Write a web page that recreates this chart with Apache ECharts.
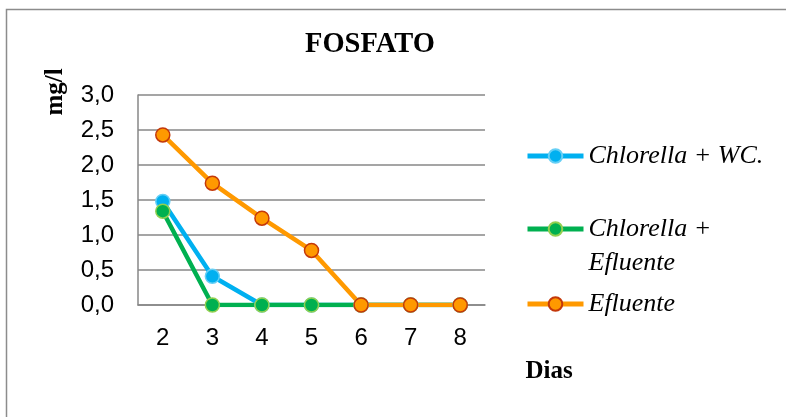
<!DOCTYPE html>
<html>
<head>
<meta charset="utf-8">
<script src="https://cdn.jsdelivr.net/npm/echarts@6/dist/echarts.min.js"></script>
<style>
  html, body { margin: 0; padding: 0; background: #fff; }
  #chart { width: 786px; height: 417px; }
</style>
</head>
<body>
<div id="chart"></div>
<script>
// Phosphate concentration (mg/l) per day
const dias = ['2', '3', '4', '5', '6', '7', '8'];
const chlorellaWC = [1.48, 0.41, 0, 0, 0, 0, 0];
const chlorellaEfluente = [1.34, 0, 0, 0, 0, 0, 0];
const efluente = [2.43, 1.74, 1.24, 0.78, 0, 0, 0];
const yTicks = ['0,0', '0,5', '1,0', '1,5', '2,0', '2,5', '3,0'];

const serifFont = '"Liberation Serif", "Times New Roman", serif';
const sansFont = '"Liberation Sans", Arial, sans-serif';
const gridGray = '#878787';

function lineSeries(name, data, lineColor, fill, border) {
  return {
    name: name,
    type: 'line',
    data: data,
    symbol: 'circle',
    symbolSize: 14,
    lineStyle: { color: lineColor, width: 4.5 },
    itemStyle: { color: fill, borderColor: border, borderWidth: 1.5 },
    emphasis: { disabled: true }
  };
}

// One legend block per series so each entry can sit at its own height;
// the wrapped name keeps its first line level with the icon.
function legendFor(name, top) {
  return {
    data: [name],
    orient: 'vertical',
    left: 525,
    top: top,
    padding: 0,
    itemWidth: 56,
    itemHeight: 17,
    itemGap: 0,
    formatter: function (n) {
      return n.indexOf('+ E') >= 0 ? '\n' + n.replace('+ E', '+\nE') : n;
    },
    lineStyle: { width: 5 },
    textStyle: {
      fontFamily: serifFont,
      fontStyle: 'italic',
      fontSize: 26,
      lineHeight: 34,
      color: '#000'
    }
  };
}

const chart = echarts.init(document.getElementById('chart'), null, { renderer: 'canvas' });

chart.setOption({
  animation: false,
  backgroundColor: '#fff',
  title: {
    text: 'FOSFATO',
    left: 305,
    top: 30,
    padding: 0,
    textStyle: { fontFamily: serifFont, fontWeight: 'bold', fontSize: 28.5, color: '#000' }
  },
  grid: { left: 138, right: 301, top: 95, bottom: 112 },
  xAxis: {
    type: 'category',
    data: dias,
    boundaryGap: true,
    axisLine: { lineStyle: { color: gridGray, width: 1.5 } },
    axisTick: { show: false },
    axisLabel: { color: '#000', fontFamily: sansFont, fontSize: 24, margin: 21 }
  },
  yAxis: {
    type: 'value',
    min: 0,
    max: 3,
    interval: 0.5,
    axisLine: { show: true, lineStyle: { color: gridGray, width: 1.5 } },
    axisTick: { show: false },
    splitLine: { lineStyle: { color: gridGray, width: 1.5 } },
    axisLabel: {
      color: '#000',
      fontFamily: sansFont,
      fontSize: 24,
      margin: 24,
      formatter: function (v) { return yTicks[Math.round(v / 0.5)]; }
    }
  },
  legend: [
    legendFor('Chlorella + WC.', 139),
    legendFor('Chlorella + Efluente', 178),
    legendFor('Efluente', 287)
  ],
  graphic: [
    {
      type: 'rect',
      silent: true,
      shape: { x: 6.5, y: 9.5, width: 800, height: 420 },
      style: { fill: null, stroke: '#8c8c8c', lineWidth: 1.5 }
    },
    {
      type: 'text',
      x: 56,
      y: 92,
      rotation: Math.PI / 2,
      style: {
        text: 'mg/l',
        fontFamily: serifFont,
        fontWeight: 'bold',
        fontSize: 25,
        fill: '#000',
        align: 'center',
        verticalAlign: 'middle'
      }
    },
    {
      type: 'text',
      x: 549,
      y: 372,
      style: {
        text: 'Dias',
        fontFamily: serifFont,
        fontWeight: 'bold',
        fontSize: 25,
        fill: '#000',
        align: 'center',
        verticalAlign: 'middle'
      }
    }
  ],
  series: [
    lineSeries('Chlorella + WC.', chlorellaWC, '#00b0f0', '#00b0f0', '#66cff5'),
    lineSeries('Chlorella + Efluente', chlorellaEfluente, '#00b050', '#00b050', '#92d050'),
    lineSeries('Efluente', efluente, '#ff9900', '#ff9900', '#c4380a')
  ]
});
</script>
</body>
</html>
